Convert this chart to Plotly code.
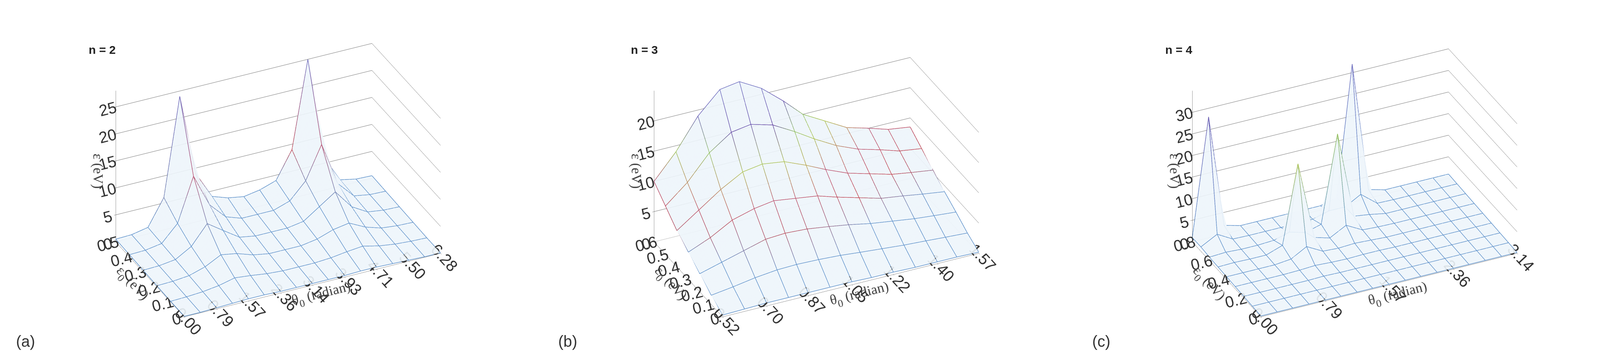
import plotly.graph_objects as go

# ---------------- data ----------------
# panel (a) n = 2
theta_a = [0.00, 0.39, 0.79, 1.18, 1.57, 1.96, 2.36, 2.75, 3.14, 3.53, 3.93, 4.32, 4.71, 5.11, 5.50, 5.89, 6.28]
eps0_a = [0.0, 0.1, 0.2, 0.3, 0.4, 0.5]
z_a = [
    [0.1, 0.1, 0.2, 0.3, 0.4, 0.4, 0.3, 0.3, 0.3, 0.3, 0.3, 0.4, 0.4, 0.3, 0.2, 0.1, 0.1],
    [0.1, 0.2, 0.4, 0.8, 1.5, 1.2, 0.8, 0.6, 0.6, 0.6, 0.8, 1.2, 1.5, 0.8, 0.4, 0.2, 0.1],
    [0.2, 0.3, 0.6, 1.5, 3.0, 2.5, 1.5, 1.0, 1.0, 1.0, 1.5, 2.5, 3.0, 1.5, 0.6, 0.3, 0.2],
    [0.3, 0.4, 0.8, 2.5, 6.0, 4.0, 2.0, 1.5, 1.5, 1.5, 2.0, 4.0, 6.0, 2.5, 0.8, 0.4, 0.3],
    [0.4, 0.5, 1.0, 4.0, 12.0, 6.0, 3.0, 2.0, 2.0, 2.0, 3.0, 6.0, 12.0, 4.0, 1.0, 0.5, 0.4],
    [0.5, 0.6, 1.2, 6.0, 24.0, 9.0, 4.0, 3.0, 2.5, 3.0, 4.0, 9.0, 25.0, 6.0, 1.2, 0.6, 0.5],
]
xt_a = [0.00, 0.79, 1.57, 2.36, 3.14, 3.93, 4.71, 5.50, 6.28]

# panel (b) n = 3
theta_b = [0.52, 0.61, 0.70, 0.79, 0.87, 0.96, 1.05, 1.13, 1.22, 1.31, 1.40, 1.48, 1.57]
eps0_b = [0.0, 0.1, 0.2, 0.3, 0.4, 0.5, 0.6]
z_b = [
    [0.3, 0.4, 0.5, 0.5, 0.5, 0.5, 0.5, 0.4, 0.4, 0.3, 0.3, 0.3, 0.2],
    [1.5, 2.0, 2.6, 3.0, 3.1, 3.0, 2.8, 2.5, 2.2, 1.9, 1.7, 1.5, 1.3],
    [3.0, 4.0, 5.0, 6.0, 6.2, 6.0, 5.5, 5.0, 4.3, 3.8, 3.3, 3.0, 2.7],
    [4.5, 6.0, 8.0, 9.0, 9.5, 9.0, 8.5, 7.5, 6.5, 5.5, 5.0, 4.5, 4.0],
    [6.0, 8.5, 11.0, 13.0, 13.5, 13.0, 11.5, 10.0, 8.5, 7.5, 6.5, 6.0, 5.5],
    [8.0, 11.0, 15.0, 17.5, 18.0, 17.0, 15.0, 13.0, 11.0, 9.5, 8.5, 7.5, 7.0],
    [10.0, 14.0, 19.0, 22.5, 23.0, 21.0, 18.0, 15.0, 13.0, 11.0, 10.0, 9.0, 8.5],
]
xt_b = [0.52, 0.70, 0.87, 1.05, 1.22, 1.40, 1.57]

# panel (c) n = 4
theta_c = [0.00, 0.20, 0.39, 0.59, 0.79, 0.98, 1.18, 1.37, 1.57, 1.77, 1.96, 2.16, 2.36, 2.55, 2.75, 2.95, 3.14]
eps0_c = [0.0, 0.1, 0.2, 0.3, 0.4, 0.5, 0.6, 0.7, 0.8]
z_c = [
    [0.2, 0.2, 0.2, 0.2, 0.2, 0.2, 0.2, 0.2, 0.2, 0.2, 0.2, 0.2, 0.2, 0.2, 0.2, 0.2, 0.2],
    [0.3, 0.3, 0.3, 0.3, 0.3, 0.3, 0.3, 0.3, 0.3, 0.3, 0.3, 0.3, 0.3, 0.3, 0.3, 0.3, 0.3],
    [0.4, 0.4, 0.4, 0.4, 0.4, 0.5, 0.4, 0.4, 0.4, 0.4, 0.4, 0.4, 0.4, 0.4, 0.4, 0.4, 0.4],
    [0.5, 0.5, 0.5, 0.5, 0.6, 0.8, 0.6, 0.5, 0.6, 0.6, 0.5, 0.5, 0.5, 0.5, 0.5, 0.5, 0.5],
    [0.6, 0.6, 0.6, 0.6, 1.0, 3.0, 1.0, 0.8, 1.0, 0.8, 0.6, 0.6, 0.6, 0.6, 0.6, 0.6, 0.6],
    [0.7, 0.8, 0.7, 0.7, 2.0, 20.0, 2.0, 1.0, 3.0, 1.0, 0.8, 0.7, 0.7, 0.7, 0.7, 0.7, 0.7],
    [0.8, 1.0, 0.8, 0.8, 1.0, 2.0, 1.0, 2.0, 22.0, 2.0, 1.5, 0.8, 0.8, 0.8, 0.8, 0.8, 0.8],
    [1.0, 3.0, 1.0, 0.9, 0.9, 0.9, 0.9, 1.0, 2.0, 2.0, 4.0, 1.0, 0.9, 0.9, 0.9, 0.9, 0.9],
    [1.0, 28.0, 2.0, 1.0, 1.0, 1.0, 1.0, 1.0, 1.0, 2.0, 32.0, 2.0, 1.0, 1.0, 1.0, 1.0, 1.0],
]
xt_c = [0.00, 0.79, 1.57, 2.36, 3.14]

panels = [
    dict(x=theta_a, y=eps0_a, z=z_a, xt=xt_a, yt=[0, 0.1, 0.2, 0.3, 0.4, 0.5], zt=[0, 5, 10, 15, 20, 25],
         zmax=25, ztop=28, tag="(a)", n="n = 2"),
    dict(x=theta_b, y=eps0_b, z=z_b, xt=xt_b, yt=[0, 0.1, 0.2, 0.3, 0.4, 0.5, 0.6], zt=[0, 5, 10, 15, 20],
         zmax=20, ztop=25, tag="(b)", n="n = 3"),
    dict(x=theta_c, y=eps0_c, z=z_c, xt=xt_c, yt=[0, 0.2, 0.4, 0.6, 0.8], zt=[0, 5, 10, 15, 20, 25, 30],
         zmax=30, ztop=35, tag="(c)", n="n = 4"),
]

cscale = [[0, "#5b8fc9"], [0.22, "#5b8fc9"], [0.32, "#c0404a"], [0.5, "#b85070"],
          [0.6, "#b8c040"], [0.75, "#90c060"], [0.85, "#6040a0"], [1, "#7070c0"]]

domains = [[0.0, 0.335], [0.335, 0.665], [0.665, 1.0]]

fig = go.Figure()
for i, p in enumerate(panels):
    scene = "scene" if i == 0 else f"scene{i + 1}"
    cmax = p["zmax"]
    # light surface under the mesh
    fig.add_trace(go.Surface(x=p["x"], y=p["y"], z=p["z"], scene=scene, showscale=False,
                             colorscale=[[0, "#eef5fb"], [1, "#eef5fb"]], opacity=0.9,
                             lighting=dict(ambient=1, diffuse=0, specular=0), hoverinfo="skip"))
    # mesh lines along theta
    for j, e in enumerate(p["y"]):
        fig.add_trace(go.Scatter3d(x=p["x"], y=[e] * len(p["x"]), z=p["z"][j], mode="lines", scene=scene,
                                   showlegend=False,
                                   line=dict(width=3, color=p["z"][j], colorscale=cscale, cmin=0, cmax=cmax)))
    # mesh lines along eps0
    for k, t in enumerate(p["x"]):
        col = [row[k] for row in p["z"]]
        fig.add_trace(go.Scatter3d(x=[t] * len(p["y"]), y=p["y"], z=col, mode="lines", scene=scene,
                                   showlegend=False,
                                   line=dict(width=3, color=col, colorscale=cscale, cmin=0, cmax=cmax)))

    ax = dict(showbackground=False, gridcolor="#777", linecolor="#333", showline=True,
              ticks="outside", tickcolor="#333",
              tickfont=dict(family="Liberation Sans", size=22, color="#333"))
    tfont = dict(family="Liberation Serif", size=36, color="#444")
    fig.update_layout({scene: dict(
        domain=dict(x=domains[i], y=[0.0, 1.0]),
        xaxis=dict(ax, tickvals=p["xt"], ticktext=[f"{v:.2f}" for v in p["xt"]],
                   range=[p["x"][0], p["x"][-1]], showgrid=False,
                   title=dict(text="θ<sub>0</sub> (radian)", font=tfont)),
        yaxis=dict(ax, tickvals=p["yt"], range=[p["y"][0], p["y"][-1]], showgrid=False,
                   title=dict(text="ε<sub>0</sub> (eV)", font=tfont)),
        zaxis=dict(ax, tickvals=p["zt"], range=[0, p["ztop"]],
                   title=dict(text="ε (eV)", font=tfont)),
        aspectmode="manual", aspectratio=dict(x=1.6, y=0.9, z=1.0),
        camera=dict(eye=dict(x=-0.5, y=-1.05, z=0.63), center=dict(x=0, y=0, z=-0.08),
                    projection=dict(type="orthographic")),
    )})
    fig.add_annotation(x=domains[i][0] + 0.005, y=0.03, xref="paper", yref="paper", text=p["tag"],
                       showarrow=False, xanchor="left", font=dict(family="Liberation Sans", size=40, color="#333"))
    fig.add_annotation(x=domains[i][0] + 0.05, y=0.9, xref="paper", yref="paper", text="<b>" + p["n"] + "</b>",
                       showarrow=False, xanchor="left", font=dict(family="Liberation Sans", size=30, color="#222"))

fig.update_layout(width=4164, height=928, paper_bgcolor="white", showlegend=False,
                  margin=dict(l=10, r=10, t=10, b=10))
fig.write_html("out.html")
